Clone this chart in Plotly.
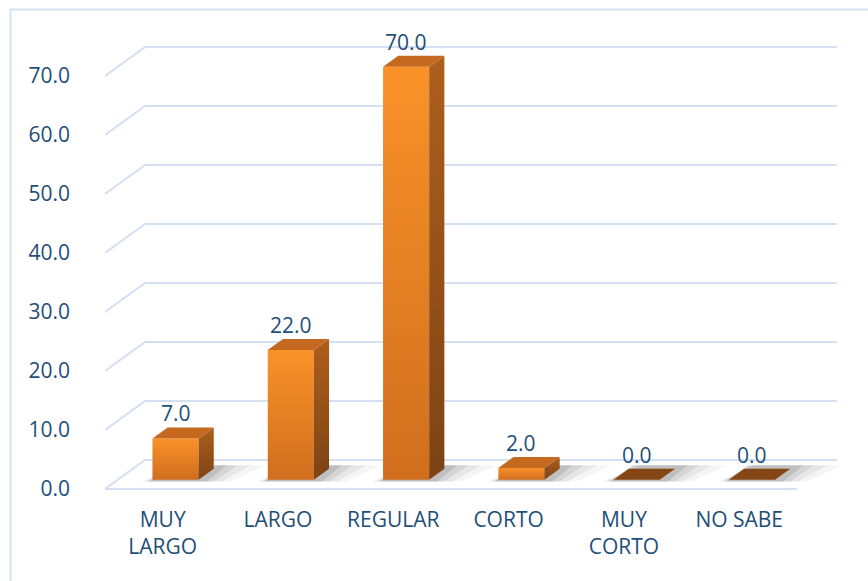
import plotly.graph_objects as go

# ---- data -------------------------------------------------------------
categories = ["MUY<br>LARGO", "LARGO", "REGULAR", "CORTO", "MUY<br>CORTO", "NO SABE"]
values = [7.0, 22.0, 70.0, 2.0, 0.0, 0.0]
y_ticks = [0, 10, 20, 30, 40, 50, 60, 70]

# ---- styling / geometry constants -------------------------------------
W, H = 868, 581
M_L, M_R, M_T, M_B = 105, 20, 17, 80
PX_PER_CAT = 115.3          # horizontal pixels per category slot
PX_PER_UNIT = 5.9           # vertical pixels per value unit
CAT0_PX = 162.7             # pixel x of first category (front plane)
ZERO_PX = 489               # pixel y of value 0 (front plane)
DEPTH_PX = (40, 29)         # oblique offset of the back wall (dx, dy) in pixels

TEXT = "#1F4E79"
GRID = "#D3E0F2"
FONT = "Open Sans"
FSIZE = 21

DX = DEPTH_PX[0] / PX_PER_CAT
DY = DEPTH_PX[1] / PX_PER_UNIT
x_range = [(M_L - CAT0_PX) / PX_PER_CAT, (W - M_R - CAT0_PX) / PX_PER_CAT]
y_range = [(ZERO_PX - (H - M_B)) / PX_PER_UNIT, (ZERO_PX - M_T) / PX_PER_UNIT]

n = len(categories)
x_left, x_right = -0.5, n - 0.5

fig = go.Figure()

# ---- walls: gridlines bent over the floor/back wall --------------------
for v in y_ticks:
    xs = [x_left, x_left + DX, x_right + DX]
    ys = [v, v + DY, v + DY]
    if v == 0:
        xs = [x_right, x_left] + xs
        ys = [0, 0] + ys
    fig.add_trace(go.Scatter(x=xs, y=ys, mode="lines",
                             line=dict(color=GRID, width=2),
                             hoverinfo="skip", showlegend=False))

# ---- 3-D bars ---------------------------------------------------------
d0, d1 = 0.32, 0.70     # bar depth span (fraction of floor depth)
bw = 0.40               # bar width in category units


def poly(pts, **kw):
    xs = [p[0] for p in pts] + [pts[0][0]]
    ys = [p[1] for p in pts] + [pts[0][1]]
    fig.add_trace(go.Scatter(x=xs, y=ys, mode="lines", fill="toself",
                             line=dict(width=0), hoverinfo="skip",
                             showlegend=False, **kw))


for i, v in enumerate(values):
    fx0 = i - bw / 2 + d0 * DX
    fx1 = i + bw / 2 + d0 * DX
    fy0 = d0 * DY
    bx0 = i - bw / 2 + d1 * DX
    bx1 = i + bw / 2 + d1 * DX
    by0 = d1 * DY

    # soft floor shadow
    for ex, op in [(0.28, 0.05), (0.2, 0.07), (0.13, 0.10), (0.07, 0.14)]:
        sh = ex * 0.6
        poly([(fx0 - ex * 0.35, fy0 - 0.3), (fx1 + ex, fy0 - 0.3),
              (bx1 + ex + sh, by0 + 0.6), (bx0 - ex * 0.2 + sh, by0 + 0.6)],
             fillcolor=f"rgba(60,60,60,{op})")

    if v > 0:
        # front face
        poly([(fx0, fy0), (fx1, fy0), (fx1, fy0 + v), (fx0, fy0 + v)],
             fillcolor="#E8801F",
             fillgradient=dict(type="vertical",
                               colorscale=[[0, "#D06E1E"], [1, "#F99229"]],
                               start=fy0, stop=fy0 + v))
        # side face
        poly([(fx1, fy0), (bx1, by0), (bx1, by0 + v), (fx1, fy0 + v)],
             fillcolor="#9A5419",
             fillgradient=dict(type="vertical",
                               colorscale=[[0, "#7D4314"], [1, "#AE5F1C"]],
                               start=fy0, stop=by0 + v))
        # top face
        poly([(fx0, fy0 + v), (fx1, fy0 + v), (bx1, by0 + v), (bx0, by0 + v)],
             fillcolor="#C4691F")
    else:
        poly([(fx0, fy0), (fx1, fy0), (bx1, by0), (bx0, by0)],
             fillcolor="#854616")

    fig.add_annotation(x=i + d0 * DX, y=v + by0, xref="x", yref="y",
                       text=f"{v:.1f}", showarrow=False, yshift=14,
                       font=dict(family=FONT, size=FSIZE, color=TEXT))

fig.update_layout(
    width=W, height=H,
    margin=dict(l=M_L, r=M_R, t=M_T, b=M_B),
    paper_bgcolor="white", plot_bgcolor="white",
    xaxis=dict(range=x_range, tickvals=list(range(n)), ticktext=categories,
               showgrid=False, zeroline=False, showline=False, ticks="",
               tickfont=dict(family=FONT, size=FSIZE, color=TEXT),
               ticklabelstandoff=4, fixedrange=True),
    yaxis=dict(range=y_range, tickvals=y_ticks, tickformat=".1f",
               showgrid=False, zeroline=False, showline=False, ticks="",
               tickfont=dict(family=FONT, size=FSIZE, color=TEXT),
               ticklabelstandoff=34, fixedrange=True),
    shapes=[dict(type="rect", xref="paper", yref="paper",
                 x0=(10.5 - M_L) / (W - M_L - M_R), x1=1.2,
                 y0=-0.3, y1=1 + (M_T - 9.5) / (H - M_T - M_B),
                 line=dict(color="#D6E3F4", width=2), layer="below")],
)

fig.write_html("out.html")
